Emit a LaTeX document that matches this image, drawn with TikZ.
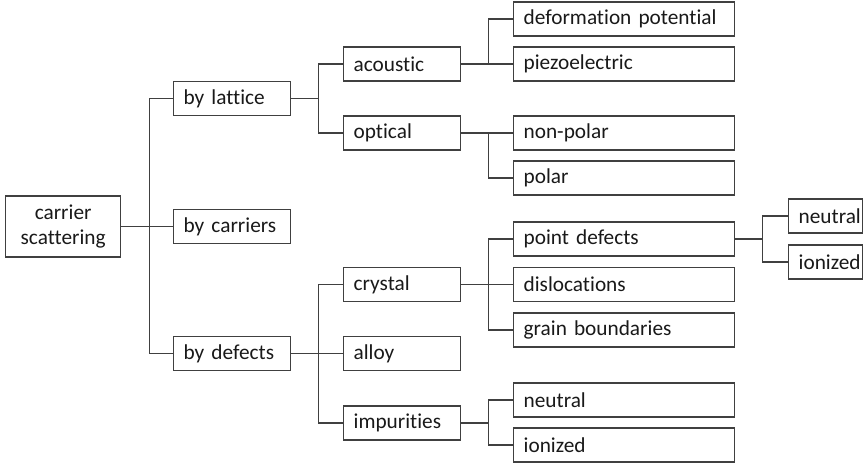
\documentclass[tikz,border=0pt]{standalone}
\usepackage{fontspec}
\setmainfont{Carlito}[Ligatures=CommonOff, WordSpace=0.75]
\usetikzlibrary{shapes}

\begin{document}
\begin{tikzpicture}[x=1pt, y=-1pt, line width=1.3pt,
        box/.style={draw=black!75, rectangle, anchor=west, minimum height=34pt,
            inner xsep=10pt, inner ysep=0pt, align=left, text=black!90,
            font=\fontsize{21.3}{25}\selectfont},
        midbox/.style={box, text width=97pt},
        widebox/.style={box, text width=201pt},
        smallbox/.style={box, text width=54pt},
        link/.style={draw=black!75}]
        \useasboundingbox (0, 0) rectangle (864, 467);

        % root
        \node[box, text width=95pt, align=center, minimum height=61pt] (root) at (5, 226.5) {carrier\\scattering};

        % first level
        \node[midbox] (lattice) at (173, 98.5) {by lattice};
        \node[midbox] (carriers) at (173, 226.5) {by carriers};
        \node[midbox] (defects) at (173, 353.5) {by defects};

        % second level
        \node[midbox] (acoustic) at (343, 64) {acoustic};
        \node[midbox] (optical) at (343, 133) {optical};
        \node[midbox] (crystal) at (343, 284.5) {crystal};
        \node[midbox] (alloy) at (343, 353.5) {alloy};
        \node[midbox] (impurities) at (343, 423) {impurities};

        % third level
        \node[widebox] (deform) at (513, 19) {deformation potential};
        \node[widebox] (piezo) at (513, 64) {piezoelectric};
        \node[widebox] (nonpolar) at (513, 133) {non-polar};
        \node[widebox] (polar) at (513, 178) {polar};
        \node[widebox] (point) at (513, 239) {point defects};
        \node[widebox] (disloc) at (513, 284.5) {dislocations};
        \node[widebox] (grain) at (513, 330) {grain boundaries};
        \node[widebox] (impneutral) at (513, 400) {neutral};
        \node[widebox] (impionized) at (513, 445) {ionized};

        % fourth level
        \node[smallbox] (ptneutral) at (788, 216) {neutral};
        \node[smallbox] (ptionized) at (788, 262) {ionized};

        % connectors
        \draw[link] (root.east) -- ++(28, 0) coordinate (j0);
        \draw[link] (lattice.west) -| (j0) |- (defects.west);
        \draw[link] (j0) -- (carriers.west);

        \draw[link] (lattice.east) -- ++(27, 0) coordinate (j1);
        \draw[link] (acoustic.west) -| (j1) |- (optical.west);

        \draw[link] (defects.east) -- ++(27, 0) coordinate (j2);
        \draw[link] (crystal.west) -| (j2) |- (impurities.west);
        \draw[link] (j2) -- (alloy.west);

        \draw[link] (acoustic.east) -- ++(27, 0) coordinate (j3);
        \draw[link] (deform.west) -| (j3) |- (piezo.west);

        \draw[link] (optical.east) -- ++(27, 0) coordinate (j4);
        \draw[link] (nonpolar.west) -| (j4) |- (polar.west);

        \draw[link] (crystal.east) -- ++(27, 0) coordinate (j5);
        \draw[link] (point.west) -| (j5) |- (grain.west);
        \draw[link] (j5) -- (disloc.west);

        \draw[link] (impurities.east) -- ++(27, 0) coordinate (j6);
        \draw[link] (impneutral.west) -| (j6) |- (impionized.west);

        \draw[link] (point.east) -- ++(27, 0) coordinate (j7);
        \draw[link] (ptneutral.west) -| (j7) |- (ptionized.west);
    \end{tikzpicture}
\end{document}
